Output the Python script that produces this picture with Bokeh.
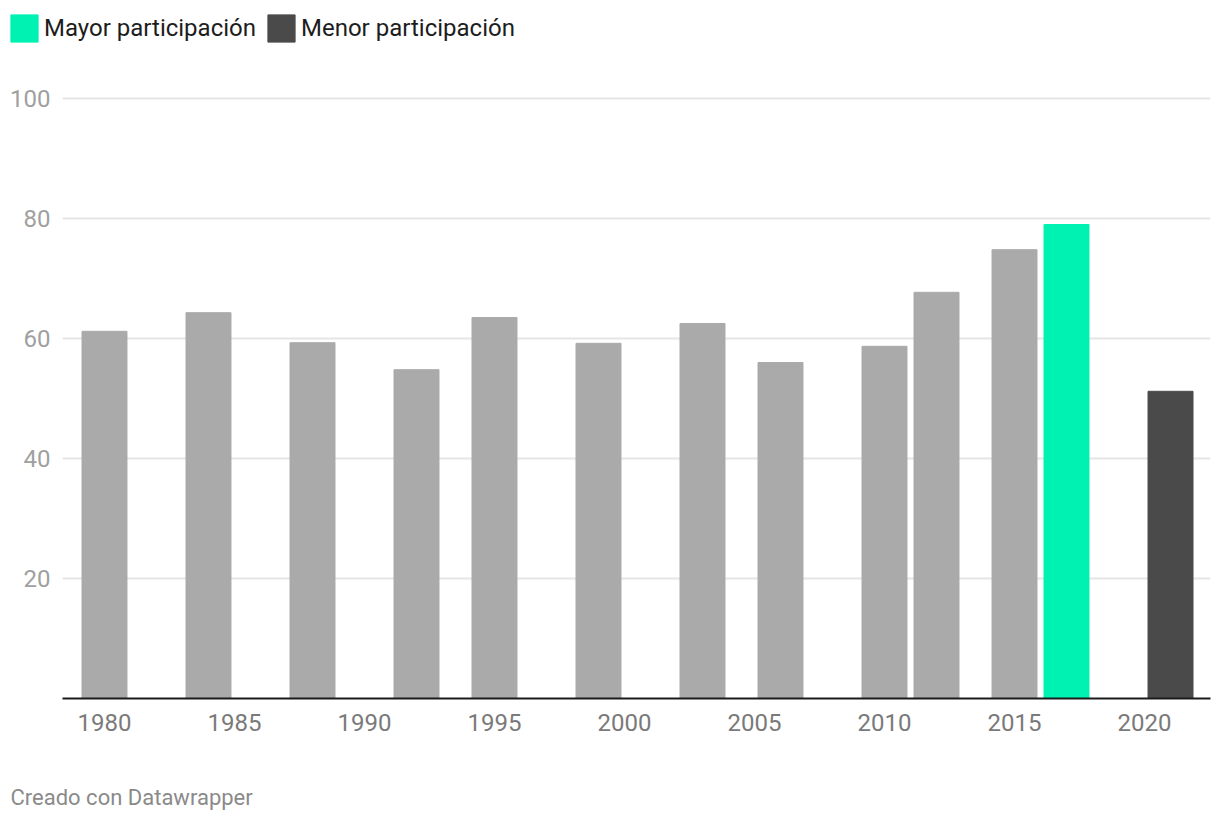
from bokeh.plotting import figure
from bokeh.models import Range1d, FixedTicker, Legend, LegendItem, Label
from bokeh.layouts import column
from bokeh.embed import file_html
from bokeh.resources import INLINE

# Data (turnout %, by election year)
years_gray = [1980, 1984, 1988, 1992, 1995, 1999, 2003, 2006, 2010, 2012, 2015]
values_gray = [61.2, 64.3, 59.3, 54.8, 63.5, 59.2, 62.5, 56.0, 58.7, 67.7, 74.8]
years_high = [2017]
values_high = [79.0]
years_low = [2021]
values_low = [51.2]
legend_labels = ["Mayor participación", "Menor participación"]
x_ticks = [1980, 1985, 1990, 1995, 2000, 2005, 2010, 2015, 2020]
y_ticks = [20, 40, 60, 80, 100]

FONT = "Roboto"
GRAY = "#aaaaaa"
GREEN = "#00f2b2"
DARK = "#4a4a4a"
BAR_W = 1.73
W = 1212


def bare(height):
    f = figure(width=W, height=height, output_backend="svg", toolbar_location=None,
               x_range=Range1d(0, 1), y_range=Range1d(0, 1), frame_align=False,
               min_border_left=0, min_border_right=0, min_border_top=0, min_border_bottom=0)
    f.axis.visible = False
    f.grid.visible = False
    f.outline_line_color = None
    f.border_fill_color = "white"
    f.background_fill_color = "white"
    return f


# ---- legend strip ----
lg = bare(56)
lr_high = lg.vbar(x=years_high, top=values_high, width=BAR_W, color=GREEN, visible=False)
lr_low = lg.vbar(x=years_low, top=values_low, width=BAR_W, color=DARK, visible=False)
legend = Legend(items=[LegendItem(label=legend_labels[0], renderers=[lr_high]),
                       LegendItem(label=legend_labels[1], renderers=[lr_low])],
                location=(7, 11), orientation="horizontal",
                glyph_width=34, glyph_height=34, label_height=34,
                label_standoff=3, spacing=8, padding=0, margin=0,
                border_line_color=None, background_fill_alpha=0,
                label_text_font=FONT, label_text_font_size="24px",
                label_text_color="#1d1d1d")
lg.add_layout(legend, "center")

# ---- main chart ----
p = figure(width=W, height=694, output_backend="svg", toolbar_location=None,
           x_range=Range1d(1978.385, 2022.538), y_range=Range1d(0, 101), frame_align=False,
           min_border_left=62, min_border_right=2, min_border_top=36, min_border_bottom=52)
p.outline_line_color = None
p.background_fill_color = "white"
p.border_fill_color = "white"

p.vbar(x=years_gray, top=values_gray, width=BAR_W, color=GRAY)
p.vbar(x=years_high, top=values_high, width=BAR_W, color=GREEN)
p.vbar(x=years_low, top=values_low, width=BAR_W, color=DARK)

xa = p.xaxis[0]
xa.ticker = FixedTicker(ticks=x_ticks)
xa.axis_line_color = "#1a1a1a"
xa.axis_line_width = 2
xa.major_tick_line_color = None
xa.minor_tick_line_color = None
xa.major_tick_out = 0
xa.major_tick_in = 0
xa.major_label_standoff = 15
xa.major_label_text_font = FONT
xa.major_label_text_font_size = "24px"
xa.major_label_text_color = "#7a7a7a"

ya = p.yaxis[0]
ya.ticker = FixedTicker(ticks=y_ticks)
ya.axis_line_color = None
ya.major_tick_line_color = None
ya.minor_tick_line_color = None
ya.major_tick_out = 0
ya.major_tick_in = 0
ya.major_label_standoff = 12
ya.major_label_text_font = FONT
ya.major_label_text_font_size = "24px"
ya.major_label_text_color = "#a0a0a0"

p.xgrid.grid_line_color = None
p.ygrid.ticker = FixedTicker(ticks=y_ticks)
p.ygrid.grid_line_color = "#e5e5e5"
p.ygrid.grid_line_width = 2

# ---- footer strip ----
ft = bare(64)
ft.add_layout(Label(x=10, y=17, x_units="screen", y_units="screen",
                    text="Creado con Datawrapper", text_font=FONT, text_font_size="22px",
                    text_color="#8a8a8a", text_baseline="middle"))

layout = column(lg, p, ft, spacing=0)
open("out.html", "w").write(file_html(layout, INLINE))
